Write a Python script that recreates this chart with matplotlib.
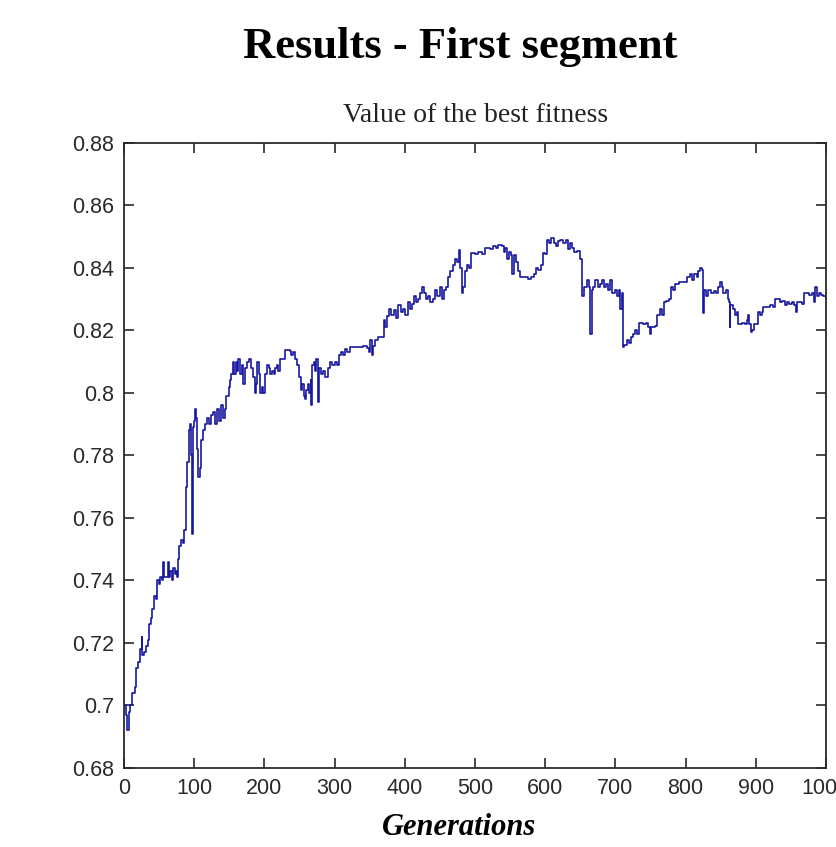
import matplotlib
matplotlib.use("Agg")
import matplotlib.pyplot as plt

# best fitness per generation
generations = [0, 3, 5, 7, 9, 12, 15, 17, 20, 23, 25, 26, 28, 31, 34, 36, 38, 40, 43, 45,
               47, 50, 52, 54, 56, 57, 60, 62, 64, 66, 68, 70, 72, 74, 76, 77, 79, 81, 84, 86,
               88, 89, 90, 92, 94, 96, 97, 98, 100, 101, 103, 104, 106, 108, 110, 113, 116, 118, 121, 124,
               127, 130, 132, 135, 138, 141, 144, 146, 149, 151, 153, 155, 157, 159, 161, 163, 165, 168, 170, 172,
               175, 178, 181, 184, 186, 188, 190, 192, 194, 196, 198, 201, 204, 206, 208, 211, 213, 215, 218, 220,
               222, 226, 229, 236, 238, 241, 244, 247, 250, 252, 254, 257, 258, 260, 262, 264, 266, 267, 268, 270,
               272, 274, 276, 278, 281, 284, 287, 290, 293, 297, 300, 303, 306, 309, 312, 315, 318, 322, 335, 340,
               346, 349, 351, 353, 355, 358, 362, 366, 370, 372, 375, 378, 381, 384, 388, 391, 394, 398, 401, 404,
               407, 410, 413, 416, 419, 422, 424, 427, 430, 433, 436, 440, 443, 446, 450, 453, 456, 459, 462, 465,
               469, 472, 475, 477, 479, 481, 483, 486, 489, 492, 495, 500, 505, 510, 514, 521, 526, 530, 533, 538,
               541, 543, 546, 549, 552, 553, 556, 559, 562, 564, 570, 575, 580, 584, 587, 590, 594, 597, 600, 603,
               606, 609, 612, 615, 618, 621, 626, 630, 632, 635, 638, 641, 645, 649, 652, 653, 656, 659, 662, 664,
               666, 668, 671, 675, 678, 681, 684, 687, 690, 693, 695, 699, 702, 705, 707, 709, 711, 713, 716, 719,
               722, 725, 728, 731, 734, 740, 744, 747, 749, 751, 756, 760, 763, 766, 769, 772, 776, 779, 782, 785,
               790, 798, 802, 806, 809, 812, 816, 818, 821, 824, 825, 826, 829, 832, 836, 840, 843, 846, 849, 852,
               854, 857, 860, 862, 863, 864, 867, 870, 873, 875, 880, 884, 887, 889, 891, 893, 895, 897, 900, 903,
               906, 909, 911, 916, 920, 925, 927, 932, 935, 938, 942, 945, 948, 951, 954, 957, 959, 963, 966, 968,
               972, 976, 980, 983, 985, 987, 990, 993, 996, 1000]
fitness = [0.700, 0.697, 0.692, 0.698, 0.700, 0.704, 0.706, 0.712, 0.714, 0.718, 0.722, 0.716, 0.717, 0.719, 0.721, 0.726, 0.728, 0.731, 0.735, 0.734,
           0.740, 0.739, 0.741, 0.740, 0.746, 0.741, 0.741, 0.746, 0.741, 0.743, 0.740, 0.744, 0.742, 0.743, 0.741, 0.747, 0.751, 0.753, 0.752, 0.756,
           0.762, 0.770, 0.778, 0.788, 0.790, 0.780, 0.755, 0.789, 0.791, 0.795, 0.792, 0.782, 0.773, 0.776, 0.785, 0.788, 0.790, 0.792, 0.790, 0.793,
           0.794, 0.790, 0.795, 0.791, 0.796, 0.792, 0.795, 0.799, 0.802, 0.804, 0.806, 0.810, 0.806, 0.810, 0.807, 0.811, 0.806, 0.809, 0.803, 0.808,
           0.810, 0.811, 0.808, 0.805, 0.800, 0.803, 0.810, 0.806, 0.800, 0.802, 0.800, 0.806, 0.809, 0.808, 0.806, 0.807, 0.806, 0.808, 0.809, 0.807,
           0.811, 0.811, 0.8138, 0.8135, 0.812, 0.813, 0.811, 0.809, 0.805, 0.801, 0.803, 0.799, 0.798, 0.801, 0.803, 0.800, 0.804, 0.796, 0.809, 0.810,
           0.807, 0.811, 0.797, 0.808, 0.806, 0.807, 0.805, 0.808, 0.810, 0.809, 0.810, 0.809, 0.812, 0.813, 0.812, 0.814, 0.813, 0.8148, 0.8148, 0.815,
           0.8145, 0.813, 0.817, 0.812, 0.815, 0.817, 0.818, 0.818, 0.8235, 0.821, 0.8245, 0.827, 0.825, 0.8265, 0.824, 0.828, 0.826, 0.827, 0.825, 0.829,
           0.827, 0.8285, 0.831, 0.829, 0.830, 0.832, 0.834, 0.832, 0.830, 0.831, 0.829, 0.830, 0.833, 0.831, 0.834, 0.830, 0.833, 0.834, 0.837, 0.839,
           0.841, 0.843, 0.842, 0.8457, 0.840, 0.832, 0.834, 0.839, 0.841, 0.840, 0.8448, 0.8445, 0.845, 0.8445, 0.8465, 0.846, 0.847, 0.8465, 0.8475, 0.847,
           0.845, 0.8465, 0.843, 0.845, 0.844, 0.838, 0.844, 0.842, 0.839, 0.837, 0.837, 0.8365, 0.837, 0.838, 0.840, 0.8395, 0.841, 0.8448, 0.8445, 0.849,
           0.848, 0.8495, 0.848, 0.847, 0.8485, 0.849, 0.848, 0.849, 0.846, 0.848, 0.8465, 0.845, 0.8455, 0.843, 0.836, 0.831, 0.834, 0.836, 0.834, 0.819,
           0.833, 0.834, 0.836, 0.834, 0.835, 0.836, 0.834, 0.835, 0.833, 0.836, 0.832, 0.833, 0.831, 0.833, 0.827, 0.832, 0.8148, 0.8155, 0.817, 0.816,
           0.818, 0.819, 0.820, 0.819, 0.8225, 0.822, 0.8225, 0.821, 0.819, 0.821, 0.8215, 0.825, 0.827, 0.825, 0.829, 0.8295, 0.830, 0.834, 0.833, 0.835,
           0.8355, 0.8355, 0.837, 0.838, 0.836, 0.838, 0.837, 0.839, 0.840, 0.8395, 0.8256, 0.833, 0.831, 0.833, 0.832, 0.8325, 0.832, 0.834, 0.8355, 0.834,
           0.832, 0.833, 0.830, 0.829, 0.821, 0.828, 0.827, 0.825, 0.826, 0.822, 0.8225, 0.822, 0.8235, 0.825, 0.822, 0.8195, 0.820, 0.822, 0.822, 0.826,
           0.825, 0.826, 0.8275, 0.8275, 0.828, 0.8275, 0.830, 0.8302, 0.829, 0.8295, 0.828, 0.829, 0.8285, 0.829, 0.828, 0.826, 0.829, 0.829, 0.8285, 0.832,
           0.832, 0.8315, 0.832, 0.829, 0.834, 0.831, 0.832, 0.8315, 0.831, 0.8305]

xticks = [0, 100, 200, 300, 400, 500, 600, 700, 800, 900, 1000]
yticks = [0.68, 0.70, 0.72, 0.74, 0.76, 0.78, 0.80, 0.82, 0.84, 0.86, 0.88]
ytick_labels = ["0.68", "0.7", "0.72", "0.74", "0.76", "0.78", "0.8", "0.82", "0.84", "0.86", "0.88"]

serif = "Liberation Serif"

fig = plt.figure(figsize=(8.36, 8.47), dpi=100)
ax = fig.add_axes([0.1483, 0.0933, 0.8397, 0.7379])

ax.plot(generations, fitness, drawstyle="steps-post", color="#1818a0", lw=1.2)

ax.set_xlim(0, 1000)
ax.set_ylim(0.68, 0.88)
ax.set_xticks(xticks)
ax.set_xticklabels([str(t) for t in xticks])
ax.set_yticks(yticks)
ax.set_yticklabels(ytick_labels)
ax.tick_params(direction="in", length=7, width=1.2, top=True, right=True,
               labelsize=15.5, labelcolor="#2a2a2a", colors="#2a2a2a", pad=7)
for lab in ax.get_xticklabels() + ax.get_yticklabels():
    lab.set_fontfamily("Liberation Sans")
for s in ax.spines.values():
    s.set_linewidth(1.3)
    s.set_color("#2a2a2a")

fig.text(460 / 836, 1 - 47 / 847, "Results - First segment", ha="center", va="center",
         fontsize=32, fontweight="bold", family=serif)
fig.text(476 / 836, 1 - 116 / 847, "Value of the best fitness", ha="center", va="center",
         fontsize=20, family=serif, color="#222222")
fig.text(459 / 836, 1 - 827 / 847, "Generations", ha="center", va="center",
         fontsize=22, fontweight="bold", fontstyle="italic", family=serif)

fig.savefig("out.png", dpi=100)
